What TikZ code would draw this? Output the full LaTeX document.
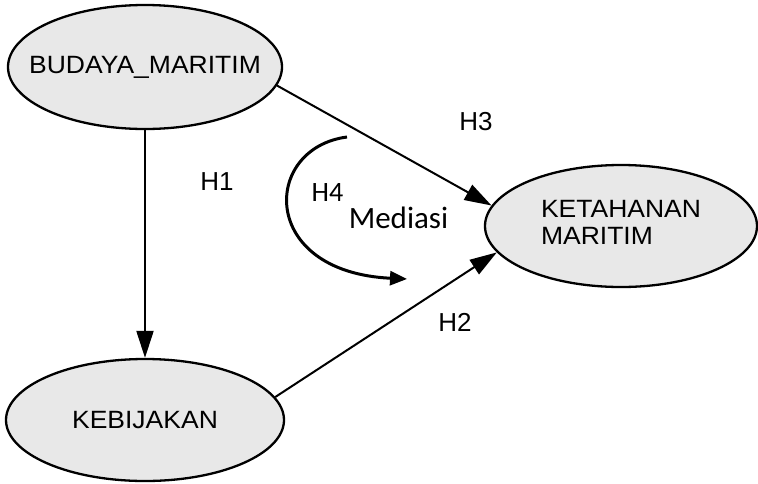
\documentclass[tikz,border=0pt]{standalone}
\usepackage{fontspec}
\setmainfont{Liberation Sans}
\newfontfamily\calibrifont{Carlito}
\usetikzlibrary{shapes.geometric,arrows.meta}

\tikzset{
  construct/.style={ellipse, draw=black, line width=2.3pt, fill=black!9,
    inner sep=0pt, font=\fontsize{25}{27}\selectfont},
  path arrow/.style={line width=2pt,
    -{Triangle[length=27pt,width=17pt]}},
  hyp/.style={anchor=base, inner sep=0pt, font=\fontsize{26}{30}\selectfont},
  note/.style={anchor=base, inner sep=0pt, font=\calibrifont\fontsize{#1}{#1}\selectfont},
}
\newcommand{\wide}[1]{\makebox[0pt]{\scalebox{1.06}[1]{#1}}}

\begin{document}
\begin{tikzpicture}[x=1pt,y=-1pt]
  \useasboundingbox (0,0) rectangle (758,483);

  % latent constructs
  \node[construct, minimum width=274pt, minimum height=124pt] (bm) at (145,67)
    {\wide{BUDAYA\_MARITIM}};
  \node[construct, minimum width=278pt, minimum height=122pt] (kb) at (145,420)
    {\wide{KEBIJAKAN}};
  \node[construct, minimum width=272pt, minimum height=122pt] (km) at (621,226)
    {\wide{\begin{tabular}{@{}l@{}}KETAHANAN\\MARITIM\end{tabular}}};

  % structural paths
  \draw[path arrow] (bm.south) -- (kb.north);
  \draw[path arrow] (bm.-8.6) -- (km.171.6);
  \draw[path arrow] (kb.10.3) -- (km.-168.4);

  % mediation arc
  \coordinate (m0) at (347,137);
  \coordinate (m1) at (407,279);
  \draw[line width=3pt, -{Triangle[length=17pt,width=14pt]}]
    (m0) .. controls (262,148) and (258,272) .. (m1);

  % hypothesis labels
  \node[hyp] (h1) at (217,190) {H1};
  \node[hyp] (h3) at (476,130) {H3};
  \node[hyp] (h2) at (455,331) {H2};
  \node[note=28] (h4) at (327.5,201) {H4};
  \node[note=31] (med) at (398.5,228) {Mediasi};
\end{tikzpicture}
\end{document}
